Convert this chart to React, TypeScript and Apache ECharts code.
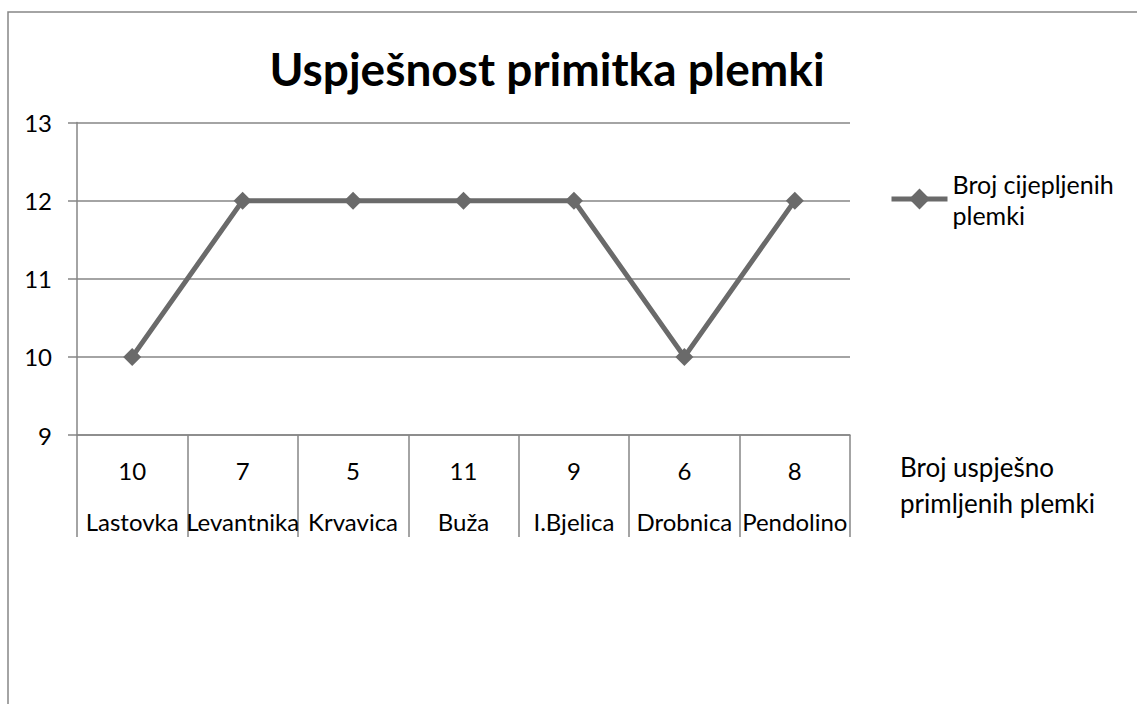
import React, { useEffect, useRef } from "react";
import * as echarts from "echarts";

const title = "Uspješnost primitka plemki";
const categories = ["Lastovka", "Levantnika", "Krvavica", "Buža", "I.Bjelica", "Drobnica", "Pendolino"];
const successCounts = ["10", "7", "5", "11", "9", "6", "8"];
const vaccinated = [10, 12, 12, 12, 12, 10, 12];
const seriesName = "Broj cijepljenih plemki";
const tableRowName = "Broj uspješno\nprimljenih plemki";
const yMin = 9;
const yMax = 13;

const FONT = "Lato, 'Open Sans', sans-serif";
const GRID = "#868686";
const LINE = "#6a6a6a";
const FS = 24;

export default function App() {
  const ref = useRef<HTMLDivElement>(null);
  useEffect(() => {
    if (!ref.current) return;
    const chart = echarts.init(ref.current, null, { renderer: "svg" });
    chart.setOption({
      animation: false,
      backgroundColor: "#fff",
      textStyle: { fontFamily: FONT },
      grid: { left: 77, right: 287, top: 122.5, bottom: 269, containLabel: false },
      legend: {
        left: 889,
        top: 141,
        padding: 0,
        itemWidth: 56,
        itemHeight: 26,
        data: [seriesName],
        formatter: () => "Broj cijepljenih\nplemki",
        lineStyle: { color: LINE, width: 5 },
        itemStyle: { color: LINE, borderWidth: 0 },
        textStyle: {
          fontFamily: FONT,
          fontSize: 25,
          color: "#000",
          lineHeight: 31,
          padding: [54, 0, 0, 0],
        },
      },
      xAxis: {
        type: "category",
        data: categories,
        boundaryGap: true,
        axisLine: { show: true, lineStyle: { color: GRID, width: 1.5 } },
        axisTick: { show: true, length: 102, inside: false, lineStyle: { color: GRID, width: 1.5 } },
        axisLabel: {
          interval: 0,
          margin: 10,
          formatter: (v: string, i: number) => `{n|${successCounts[i]}}\n{c|${v}}`,
          rich: {
            n: { fontFamily: FONT, fontSize: FS, color: "#000", lineHeight: 51 },
            c: { fontFamily: FONT, fontSize: FS, color: "#000", lineHeight: 51 },
          },
        },
        splitLine: { show: false },
      },
      yAxis: {
        type: "value",
        min: yMin,
        max: yMax,
        interval: 1,
        axisLine: { show: true, lineStyle: { color: GRID, width: 1.5 } },
        axisTick: { show: true, length: 9, lineStyle: { color: GRID, width: 1.5 } },
        axisLabel: { margin: 25, fontFamily: FONT, fontSize: FS, color: "#000" },
        splitLine: { show: true, lineStyle: { color: GRID, width: 1.5 } },
      },
      series: [
        {
          name: seriesName,
          type: "line",
          data: vaccinated,
          symbol: "diamond",
          symbolSize: 18,
          showSymbol: true,
          lineStyle: { color: LINE, width: 5 },
          itemStyle: { color: LINE, borderWidth: 0 },
        },
      ],
      graphic: [
        {
          type: "rect",
          silent: true,
          shape: { x: 8, y: 12, width: 1150, height: 720 },
          style: { fill: "none", stroke: GRID, lineWidth: 1.5 },
        },
        {
          type: "text",
          x: 547,
          y: 68,
          style: {
            text: title,
            fontFamily: FONT,
            fontSize: 46,
            fontWeight: "bold",
            fill: "#000",
            textAlign: "center",
            textVerticalAlign: "middle",
          },
        },
        {
          type: "text",
          x: 900,
          y: 485,
          style: {
            text: tableRowName,
            fontFamily: FONT,
            fontSize: 26,
            lineHeight: 36,
            fill: "#000",
            textAlign: "left",
            textVerticalAlign: "middle",
          },
        },
      ],
    });
    return () => chart.dispose();
  }, []);
  return (
    <div
      ref={ref}
      style={{ position: "absolute", left: 0, top: 0, width: 1137, height: 704, background: "#fff" }}
    />
  );
}
